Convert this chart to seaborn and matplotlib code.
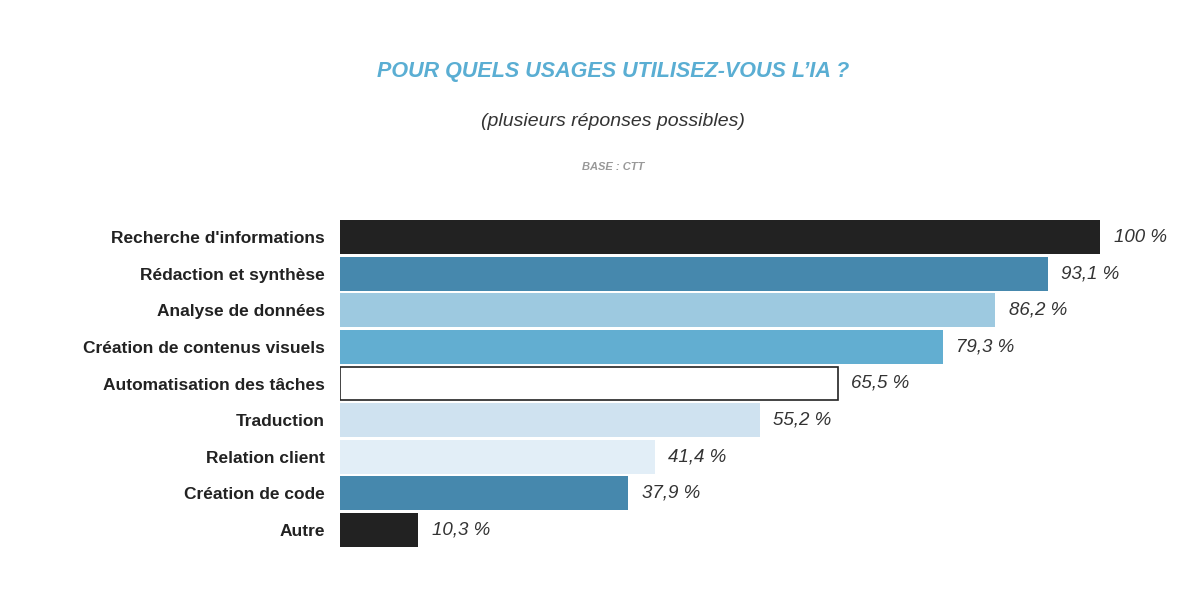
import matplotlib
matplotlib.use("Agg")
import matplotlib.pyplot as plt
import seaborn as sns
import pandas as pd

categories = ["Recherche d'informations", "Rédaction et synthèse", "Analyse de données",
              "Création de contenus visuels", "Automatisation des tâches", "Traduction",
              "Relation client", "Création de code", "Autre"]
values = [100, 93.1, 86.2, 79.3, 65.5, 55.2, 41.4, 37.9, 10.3]
labels = ["100 %", "93,1 %", "86,2 %", "79,3 %", "65,5 %", "55,2 %", "41,4 %", "37,9 %", "10,3 %"]
colors = ["#222222", "#4688ad", "#9dc9e0", "#62aed1", "#ffffff", "#cfe2f0", "#e2eef7", "#4688ad", "#222222"]

sns.set_theme(style="white")
plt.rcParams['font.family'] = ['Liberation Sans', 'DejaVu Sans']

fig = plt.figure(figsize=(11.9, 5.97), dpi=100)
ax = fig.add_axes([340/1190, 1-548/597, 760/1190, 329/597])
df = pd.DataFrame({"cat": categories, "val": values})
sns.barplot(data=df, x="val", y="cat", hue="cat", palette=colors, legend=False,
            width=0.93, ax=ax, saturation=1)
for i, p in enumerate(ax.patches):
    if colors[i] == "#ffffff":
        p.set_edgecolor("#222222"); p.set_linewidth(1.2)
    else:
        p.set_edgecolor("none")
for i, (v, l) in enumerate(zip(values, labels)):
    ax.text(v + 1.8, i, l, va="center", ha="left", fontsize=13.5, style="italic", color="#333333")
ax.set_xlim(0, 100)
ax.set_ylim(8.5, -0.5)
ax.set_xlabel(""); ax.set_ylabel("")
ax.set_xticks([])
ax.tick_params(axis="y", length=0, pad=11)
for t in ax.get_yticklabels():
    t.set_fontweight("bold"); t.set_fontsize(12.5); t.set_color("#222222")
sns.despine(ax=ax, left=True, bottom=True)

fig.text(0.515, 1-72/597, "POUR QUELS USAGES UTILISEZ-VOUS L’IA ?", ha="center", va="center",
         fontsize=15.5, fontweight="bold", style="italic", color="#5aaed3")
fig.text(0.515, 1-122/597, "(plusieurs réponses possibles)", ha="center", va="center",
         fontsize=14, style="italic", color="#333333")
fig.text(0.515, 1-167/597, "BASE : CTT", ha="center", va="center",
         fontsize=8, fontweight="bold", style="italic", color="#999999")
fig.savefig("out.png", dpi=100, facecolor="white")
